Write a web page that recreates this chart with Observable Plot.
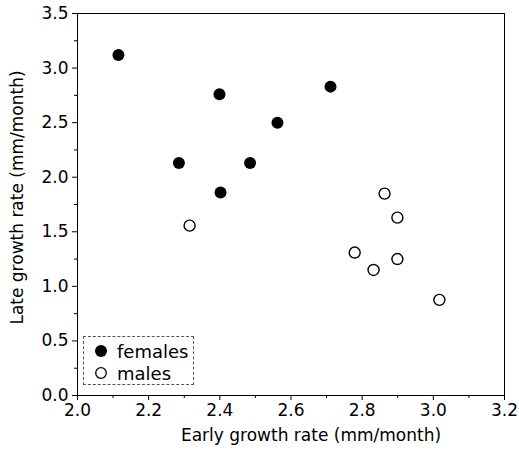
<!DOCTYPE html>
<html>
<head>
<meta charset="utf-8">
<script src="https://cdn.jsdelivr.net/npm/d3@7"></script>
<script src="https://cdn.jsdelivr.net/npm/@observablehq/plot@0.6"></script>
<style>
  html, body { margin: 0; padding: 0; background: #fff; }
  #wrap { position: relative; width: 519px; height: 456px; font-family: "DejaVu Sans", Verdana, sans-serif; }
  #legend { position: absolute; left: 83px; top: 336px; width: 111px; height: 49px; border: 1px dashed #555; box-sizing: border-box; font-size: 18px; color: #000; }
  #legend .row { display: flex; align-items: center; height: 22px; padding-left: 10px; }
  #legend .row:first-child { margin-top: 3px; }
  #legend svg { margin-right: 9px; }
</style>
</head>
<body>
<div id="wrap"></div>
<script>
const femalesEarly = [2.115, 2.285, 2.399, 2.402, 2.485, 2.562, 2.711];
const femalesLate  = [3.12, 2.13, 2.76, 1.86, 2.13, 2.50, 2.83];
const malesEarly = [2.315, 2.863, 2.899, 2.779, 2.899, 2.832, 3.017];
const malesLate  = [1.556, 1.85, 1.63, 1.31, 1.25, 1.15, 0.876];
const xMajor = [2.0, 2.2, 2.4, 2.6, 2.8, 3.0, 3.2];
const xMinor = [2.1, 2.3, 2.5, 2.7, 2.9, 3.1];
const yMajor = [0.0, 0.5, 1.0, 1.5, 2.0, 2.5, 3.0, 3.5];
const yMinor = [0.25, 0.75, 1.25, 1.75, 2.25, 2.75, 3.25];
const legendItems = ["females", "males"];

const females = femalesEarly.map((x, i) => ({x, y: femalesLate[i]}));
const males = malesEarly.map((x, i) => ({x, y: malesLate[i]}));

const chart = Plot.plot({
  width: 519,
  height: 456,
  marginLeft: 77,
  marginRight: 15,
  marginTop: 13,
  marginBottom: 61,
  style: { fontFamily: "'DejaVu Sans', Verdana, sans-serif", fontSize: "17px", color: "#000", background: "#fff" },
  x: { domain: [2.0, 3.2] },
  y: { domain: [0, 3.5] },
  marks: [
    Plot.frame({ stroke: "#000", strokeWidth: 1 }),
    Plot.axisX(xMajor, { tickSize: 5, tickPadding: 3, tickFormat: d3.format(".1f"), label: null, fontSize: 17, style: { letterSpacing: "1px" } }),
    Plot.axisX(xMinor, { tickSize: 3, tickFormat: () => "", label: null }),
    Plot.axisY(yMajor, { tickSize: 5, tickPadding: 4, tickFormat: d3.format(".1f"), label: null, fontSize: 17, style: { letterSpacing: "1px" } }),
    Plot.axisY(yMinor, { tickSize: 3, tickFormat: () => "", label: null }),
    Plot.text(["Early growth rate (mm/month)"], { frameAnchor: "bottom", dy: 45, dx: 20, fontSize: 17, text: d => d, style: { letterSpacing: "0.2px" } }),
    Plot.text(["Late growth rate (mm/month)"], { frameAnchor: "left", dx: -60, dy: -7, rotate: -90, textAnchor: "middle", fontSize: 17, text: d => d, style: { letterSpacing: "0.8px" } }),
    Plot.dot(females, { x: "x", y: "y", r: 6, fill: "#000", stroke: "none" }),
    Plot.dot(males, { x: "x", y: "y", r: 5.5, fill: "#fff", stroke: "#000", strokeWidth: 1.4 })
  ]
});
const wrap = document.getElementById("wrap");
wrap.appendChild(chart);

const legend = document.createElement("div");
legend.id = "legend";
legendItems.forEach((name, i) => {
  const row = document.createElement("div");
  row.className = "row";
  row.innerHTML = `<svg width="14" height="14"><circle cx="7" cy="7" r="${i === 0 ? 6 : 5.3}" fill="${i === 0 ? '#000' : '#fff'}" stroke="#000" stroke-width="${i === 0 ? 0 : 1.3}"/></svg><span>${name}</span>`;
  legend.appendChild(row);
});
wrap.appendChild(legend);
</script>
</body>
</html>
